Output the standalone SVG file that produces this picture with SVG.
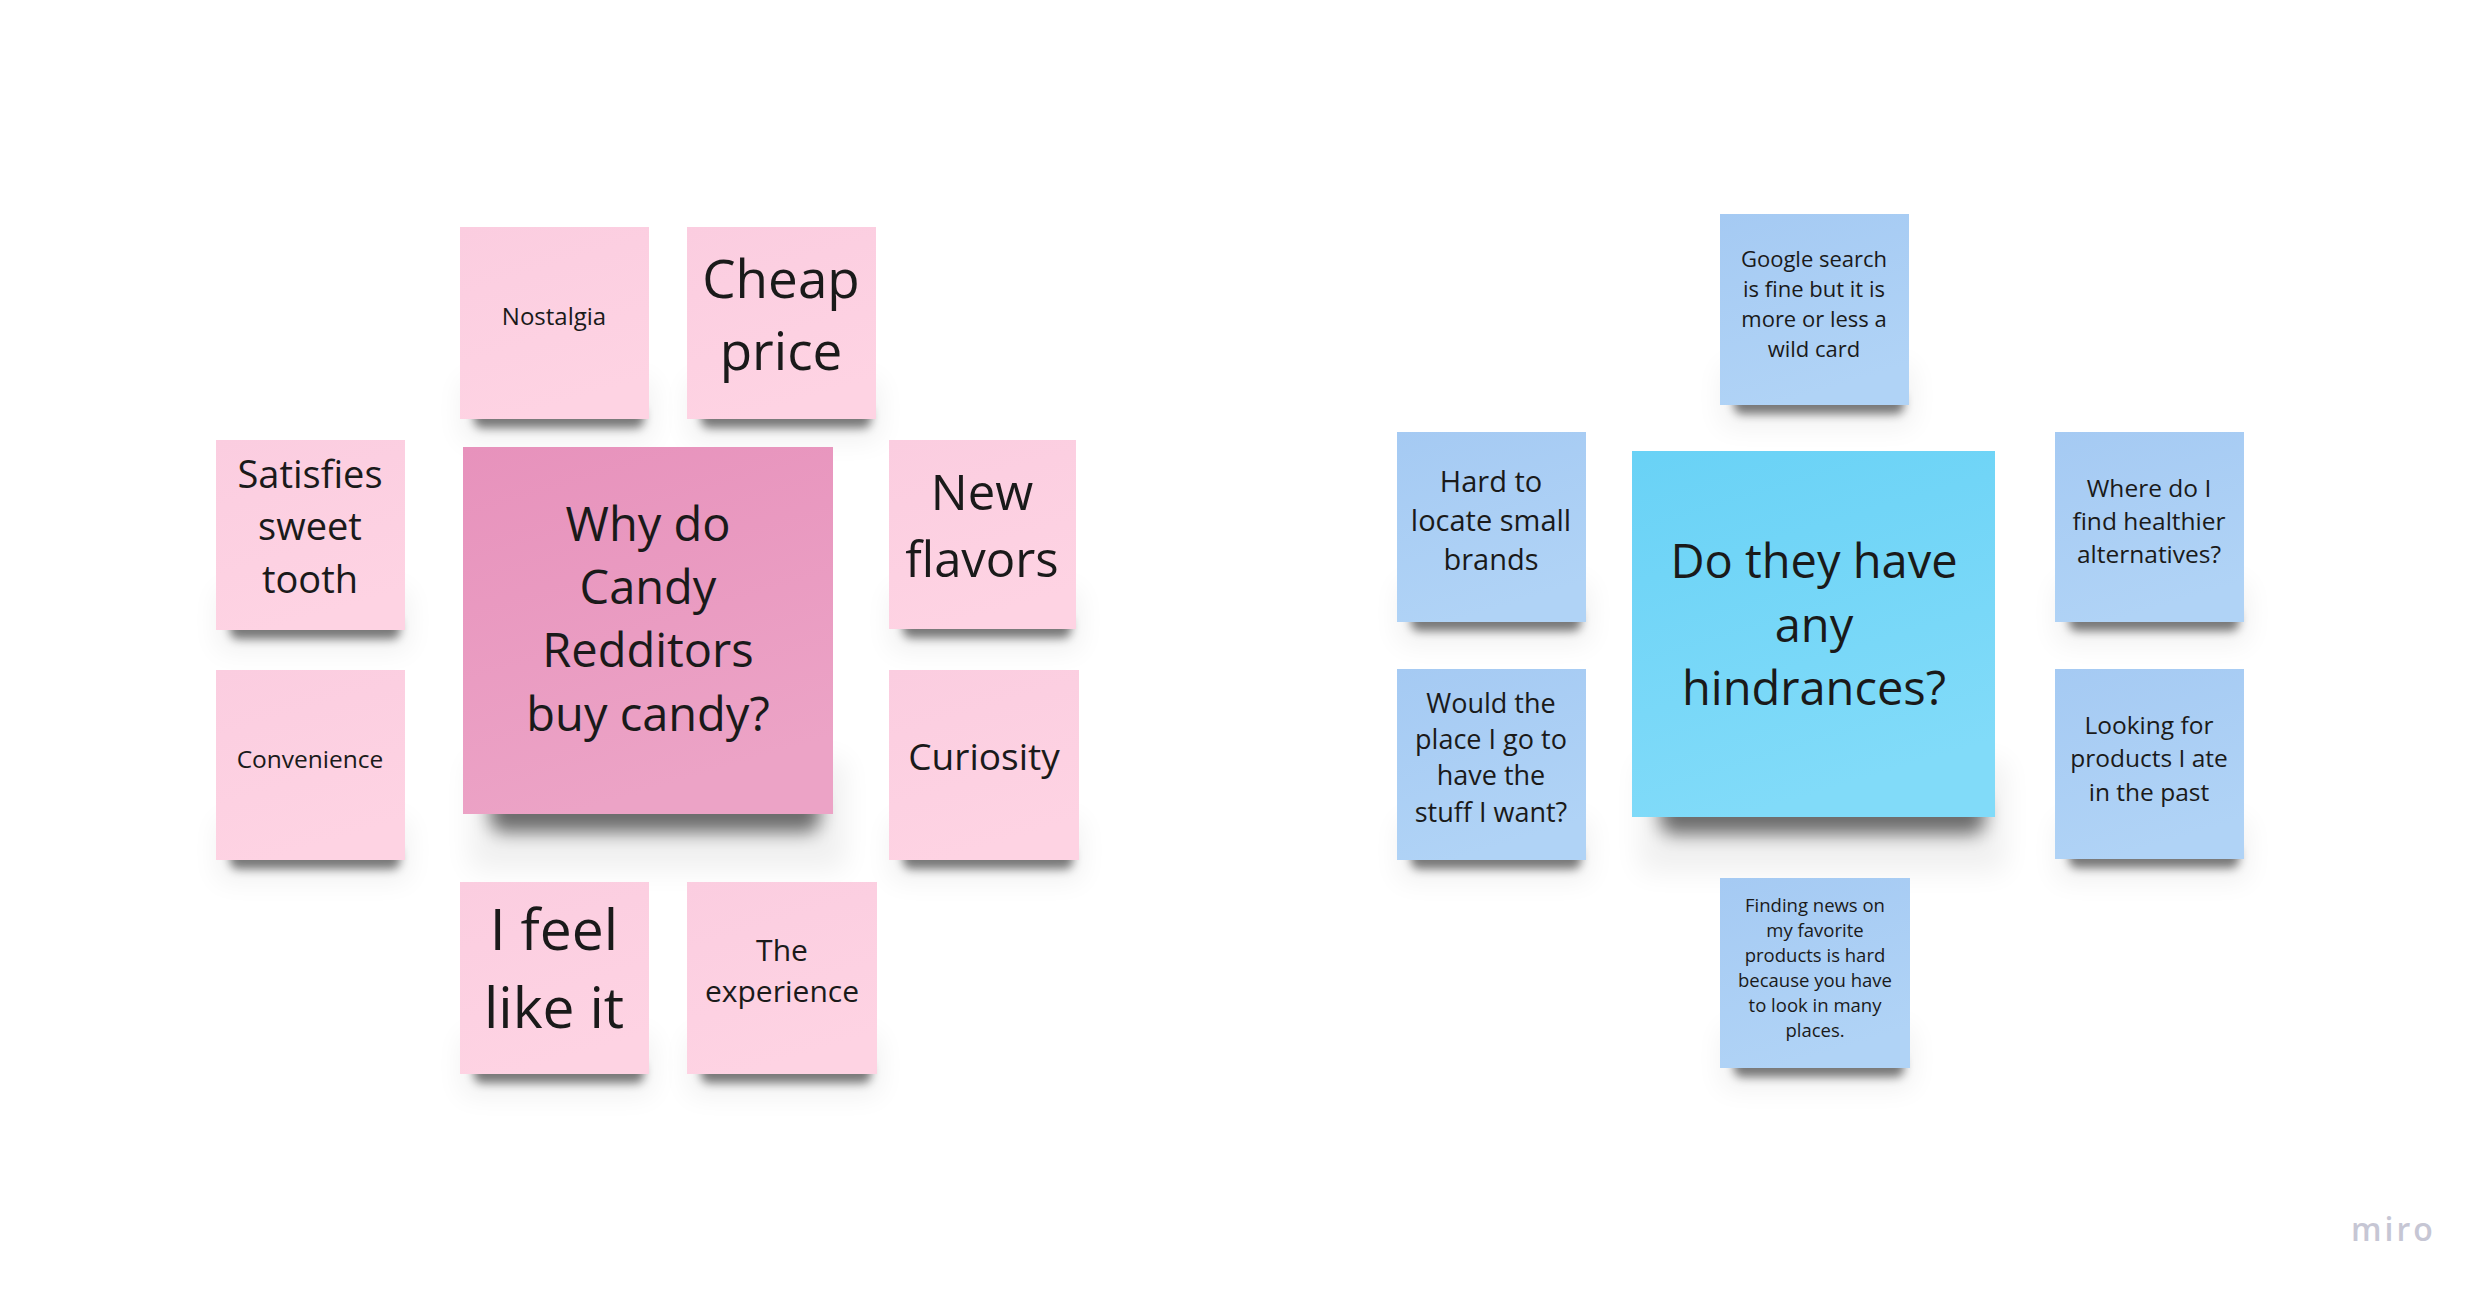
<svg xmlns="http://www.w3.org/2000/svg" width="2488" height="1301" viewBox="0 0 2488 1301">
<style>
.t{font-family:"Open Sans","Noto Sans","Liberation Sans",sans-serif;fill:#1a1a1a;text-anchor:middle}
.sp{fill:url(#gSmallPink)}
.bp{fill:url(#gBigPink)}
.sb{fill:url(#gSmallBlue)}
.bb{fill:url(#gBigBlue)}
.sh{fill:#000;opacity:.5;filter:url(#blurS)}
.shB{fill:#000;opacity:.55;filter:url(#blurB)}
.haze{fill:#000;opacity:.06;filter:url(#blurH)}
.logo{font-family:"Open Sans","Noto Sans",sans-serif;fill:#c6c6d4;font-size:32px;font-weight:600;letter-spacing:3px}
</style>
<defs>
<linearGradient id="gSmallPink" x1="0" y1="0" x2="0.3" y2="1">
<stop offset="0" stop-color="#fbcde0"/><stop offset="1" stop-color="#fed3e3"/>
</linearGradient>
<linearGradient id="gBigPink" x1="0" y1="0" x2="0.3" y2="1">
<stop offset="0" stop-color="#e792bc"/><stop offset="1" stop-color="#eca3c6"/>
</linearGradient>
<linearGradient id="gSmallBlue" x1="0" y1="0" x2="0.3" y2="1">
<stop offset="0" stop-color="#a5caf3"/><stop offset="1" stop-color="#b0d3f6"/>
</linearGradient>
<linearGradient id="gBigBlue" x1="0" y1="0" x2="0.3" y2="1">
<stop offset="0" stop-color="#69d2f6"/><stop offset="1" stop-color="#81dbf9"/>
</linearGradient>
<filter id="blurS" x="-30%" y="-150%" width="160%" height="400%"><feGaussianBlur stdDeviation="5"/></filter>
<filter id="blurB" x="-30%" y="-150%" width="160%" height="400%"><feGaussianBlur stdDeviation="9"/></filter>
<filter id="blurH" x="-30%" y="-100%" width="160%" height="300%"><feGaussianBlur stdDeviation="14"/></filter>
</defs>
<rect width="2488" height="1301" fill="#ffffff"/>

<g id="connectors"/>

<!-- Pink cluster -->
<g id="note-nostalgia">
<rect class="haze" x="462" y="380" width="190" height="60"/>
<rect class="sh" x="474" y="406" width="170" height="22" rx="8"/>
<rect class="sp" x="460" y="227" width="189" height="192"/>
<text class="t" font-size="24" x="554" y="325">Nostalgia</text>
</g>
<g id="note-cheap-price">
<rect class="haze" x="689" y="380" width="190" height="60"/>
<rect class="sh" x="701" y="406" width="170" height="22" rx="8"/>
<rect class="sp" x="687" y="227" width="189" height="192"/>
<text class="t" font-size="53" x="781" y="298">Cheap</text>
<text class="t" font-size="53" x="781" y="370">price</text>
</g>
<g id="note-satisfies">
<rect class="haze" x="218" y="590" width="190" height="60"/>
<rect class="sh" x="230" y="617" width="170" height="22" rx="8"/>
<rect class="sp" x="216" y="440" width="189" height="190"/>
<text class="t" font-size="38" x="310" y="488">Satisfies</text>
<text class="t" font-size="38" x="310" y="540">sweet</text>
<text class="t" font-size="38" x="310" y="593">tooth</text>
</g>
<g id="note-why-candy">
<rect class="haze" x="470" y="760" width="375" height="110"/>
<rect class="shB" x="490" y="794" width="330" height="38" rx="14"/>
<rect class="bp" x="463" y="447" width="370" height="367"/>
<text class="t" font-size="47" x="648" y="541">Why do</text>
<text class="t" font-size="47" x="648" y="604">Candy</text>
<text class="t" font-size="47" x="648" y="667">Redditors</text>
<text class="t" font-size="47" x="648" y="731">buy candy?</text>
</g>
<g id="note-new-flavors">
<rect class="haze" x="891" y="590" width="188" height="60"/>
<rect class="sh" x="903" y="616" width="168" height="22" rx="8"/>
<rect class="sp" x="889" y="440" width="187" height="189"/>
<text class="t" font-size="49" x="982" y="510">New</text>
<text class="t" font-size="49" x="982" y="577">flavors</text>
</g>
<g id="note-convenience">
<rect class="haze" x="218" y="820" width="190" height="60"/>
<rect class="sh" x="230" y="847" width="170" height="22" rx="8"/>
<rect class="sp" x="216" y="670" width="189" height="190"/>
<text class="t" font-size="24.5" x="310" y="768">Convenience</text>
</g>
<g id="note-curiosity">
<rect class="haze" x="891" y="820" width="190" height="60"/>
<rect class="sh" x="903" y="847" width="170" height="22" rx="8"/>
<rect class="sp" x="889" y="670" width="190" height="190"/>
<text class="t" font-size="37" x="984" y="770">Curiosity</text>
</g>
<g id="note-i-feel-like-it">
<rect class="haze" x="462" y="1035" width="190" height="60"/>
<rect class="sh" x="474" y="1061" width="170" height="22" rx="8"/>
<rect class="sp" x="460" y="882" width="189" height="192"/>
<text class="t" font-size="57" x="554" y="950">I feel</text>
<text class="t" font-size="57" x="554" y="1028">like it</text>
</g>
<g id="note-the-experience">
<rect class="haze" x="689" y="1035" width="190" height="60"/>
<rect class="sh" x="701" y="1061" width="170" height="22" rx="8"/>
<rect class="sp" x="687" y="882" width="190" height="192"/>
<text class="t" font-size="30" x="782" y="961">The</text>
<text class="t" font-size="30" x="782" y="1002">experience</text>
</g>

<!-- Blue cluster -->
<g id="note-google-search">
<rect class="haze" x="1722" y="366" width="190" height="60"/>
<rect class="sh" x="1734" y="392" width="170" height="22" rx="8"/>
<rect class="sb" x="1720" y="214" width="189" height="191"/>
<text class="t" font-size="22" x="1814" y="267">Google search</text>
<text class="t" font-size="22" x="1814" y="297">is fine but it is</text>
<text class="t" font-size="22" x="1814" y="327">more or less a</text>
<text class="t" font-size="22" x="1814" y="357">wild card</text>
</g>
<g id="note-hard-to-locate">
<rect class="haze" x="1399" y="583" width="190" height="60"/>
<rect class="sh" x="1411" y="609" width="170" height="22" rx="8"/>
<rect class="sb" x="1397" y="432" width="189" height="190"/>
<text class="t" font-size="29" x="1491" y="492">Hard to</text>
<text class="t" font-size="29" x="1491" y="531">locate small</text>
<text class="t" font-size="29" x="1491" y="570">brands</text>
</g>
<g id="note-hindrances">
<rect class="haze" x="1640" y="762" width="365" height="110"/>
<rect class="shB" x="1660" y="796" width="325" height="38" rx="14"/>
<rect class="bb" x="1632" y="451" width="363" height="366"/>
<text class="t" font-size="47" x="1814" y="578">Do they have</text>
<text class="t" font-size="47" x="1814" y="642">any</text>
<text class="t" font-size="47" x="1814" y="705">hindrances?</text>
</g>
<g id="note-healthier">
<rect class="haze" x="2057" y="583" width="190" height="60"/>
<rect class="sh" x="2069" y="609" width="170" height="22" rx="8"/>
<rect class="sb" x="2055" y="432" width="189" height="190"/>
<text class="t" font-size="24.5" x="2149" y="497">Where do I</text>
<text class="t" font-size="24.5" x="2149" y="530">find healthier</text>
<text class="t" font-size="24.5" x="2149" y="563">alternatives?</text>
</g>
<g id="note-would-the-place">
<rect class="haze" x="1399" y="820" width="190" height="60"/>
<rect class="sh" x="1411" y="847" width="170" height="22" rx="8"/>
<rect class="sb" x="1397" y="669" width="189" height="191"/>
<text class="t" font-size="27" x="1491" y="713">Would the</text>
<text class="t" font-size="27" x="1491" y="749">place I go to</text>
<text class="t" font-size="27" x="1491" y="785">have the</text>
<text class="t" font-size="27" x="1491" y="822">stuff I want?</text>
</g>
<g id="note-looking-for">
<rect class="haze" x="2057" y="820" width="190" height="60"/>
<rect class="sh" x="2069" y="846" width="170" height="22" rx="8"/>
<rect class="sb" x="2055" y="669" width="189" height="190"/>
<text class="t" font-size="24.5" x="2149" y="734">Looking for</text>
<text class="t" font-size="24.5" x="2149" y="767">products I ate</text>
<text class="t" font-size="24.5" x="2149" y="801">in the past</text>
</g>
<g id="note-finding-news">
<rect class="haze" x="1722" y="1028" width="190" height="60"/>
<rect class="sh" x="1734" y="1055" width="170" height="22" rx="8"/>
<rect class="sb" x="1720" y="878" width="190" height="190"/>
<text class="t" font-size="18.5" x="1815" y="912">Finding news on</text>
<text class="t" font-size="18.5" x="1815" y="937">my favorite</text>
<text class="t" font-size="18.5" x="1815" y="962">products is hard</text>
<text class="t" font-size="18.5" x="1815" y="987">because you have</text>
<text class="t" font-size="18.5" x="1815" y="1012">to look in many</text>
<text class="t" font-size="18.5" x="1815" y="1037">places.</text>
</g>

<g id="miro-logo">
<text class="logo" x="2351" y="1241">miro</text>
</g>
</svg>
